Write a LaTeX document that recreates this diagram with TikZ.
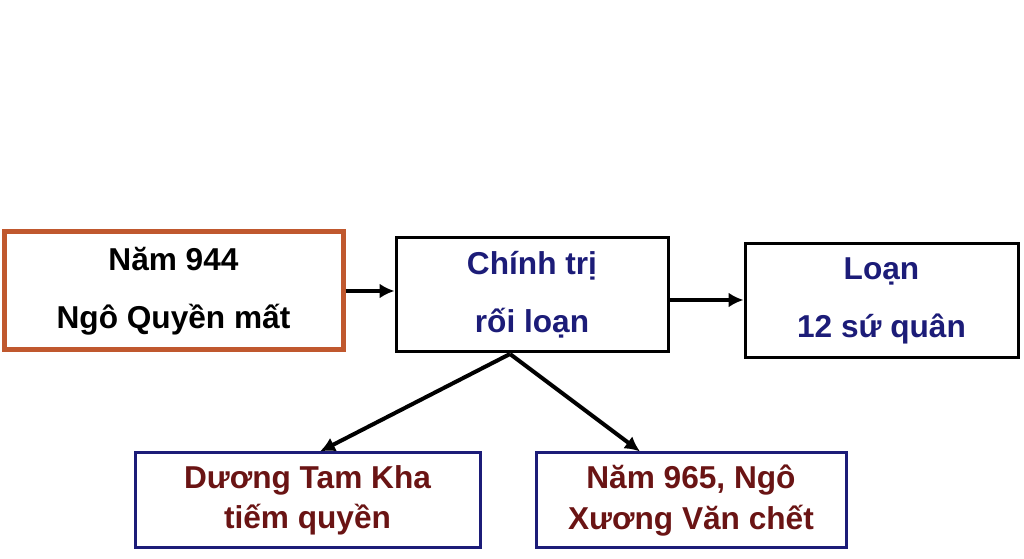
\documentclass[tikz,border=0pt]{standalone}
\usepackage{fontspec}
\setmainfont{Liberation Sans}
\definecolor{boxorange}{HTML}{C0582E}
\definecolor{navy}{HTML}{1C1C78}
\definecolor{maroon}{HTML}{6A1414}
\usetikzlibrary{arrows.meta, positioning}
\tikzset{
	box/.style = {draw, line width=0.6mm, align=center, font=\bfseries\fontsize{18}{33}\selectfont, inner sep=0pt},
	lowbox/.style = {box, draw = navy, text = maroon, font=\bfseries\fontsize{18}{23}\selectfont, minimum height=1.9cm},
	arr/.style = {-{Latex[length=3mm, width=3mm]}, line width=0.8mm}
}
\begin{document}
\begin{tikzpicture}
	\useasboundingbox (0,0) rectangle (20.48,11.18);
	\node[box, draw = boxorange, line width=1mm, minimum width=6.78cm, minimum height=2.36cm] at (3.47, 5.36) (death) {Năm 944\\Ngô Quyền mất};
	\node[box, text = navy, minimum width=5.44cm, minimum height=2.28cm] at (10.64, 5.28) (chaos) {Chính trị\\rối loạn};
	\node[box, text = navy, minimum width=5.46cm, minimum height=2.28cm] at (17.63, 5.16) (lords) {Loạn\\12 sứ quân};
	\node[lowbox, minimum width=6.9cm] at (6.15, 1.17) (usurp) {Dương Tam Kha\\tiếm quyền};
	\node[lowbox, minimum width=6.2cm] at (13.82, 1.17) (xuong) {Năm 965, Ngô\\Xương Văn chết};
	\coordinate (fork) at (10.2, 4.1);
	\draw[arr] (death.east) -- (death.east -| chaos.west);
	\draw[arr] (chaos.east |- 0,5.18) -- (lords.west |- 0,5.18);
	\draw[arr] (fork) -- (usurp.north -| 6.4,0);
	\draw[arr] (fork) -- (xuong.north -| 12.8,0);
\end{tikzpicture}
\end{document}
